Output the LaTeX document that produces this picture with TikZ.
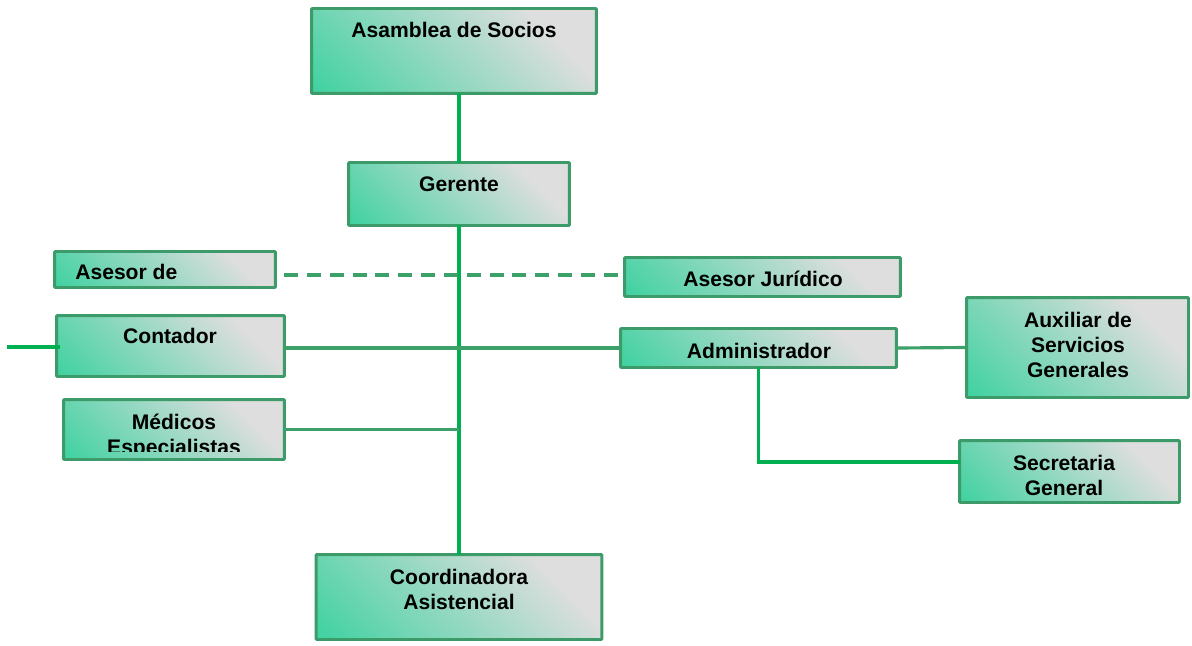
\documentclass[tikz,border=0pt]{standalone}
\usepackage{fontspec}
\setmainfont{Liberation Sans}
\definecolor{boxgreen}{RGB}{38,208,150}
\definecolor{boxgray}{RGB}{222,222,222}
\definecolor{boxedge}{RGB}{60,155,105}
\definecolor{linegreen}{RGB}{0,176,80}
\definecolor{linedark}{RGB}{60,160,105}
\pgfdeclarehorizontalshading{boxshade}{100bp}{color(0bp)=(boxgreen); color(6bp)=(boxgreen); color(72bp)=(boxgray); color(100bp)=(boxgray)}
\begin{document}
\begin{tikzpicture}[x=0.02cm,y=-0.02cm,
  orgbox/.style={draw=boxedge,line width=1.7pt,rounded corners=0.6pt,shading=boxshade,shading angle=45,inner sep=0pt,outer sep=0pt},
  lbl/.style={font=\fontsize{12}{14.2}\selectfont\bfseries,align=center,inner sep=0pt},
  link/.style={draw=linedark,line width=1.8pt},
  trunk/.style={draw=linegreen,line width=1.8pt}]
\useasboundingbox (0,0) rectangle (1192,645);

% Boxes
\node[orgbox,minimum width=5.70cm,minimum height=1.70cm] (asamblea) at (454,51) {};
\node[orgbox,minimum width=4.42cm,minimum height=1.26cm] (gerente) at (459,194) {};
\node[orgbox,minimum width=4.42cm,minimum height=0.72cm] (asesorde) at (165,269.5) {};
\node[orgbox,minimum width=5.52cm,minimum height=0.78cm] (juridico) at (762.5,277) {};
\node[orgbox,minimum width=4.56cm,minimum height=1.22cm] (contador) at (170.5,346) {};
\node[orgbox,minimum width=5.52cm,minimum height=0.78cm] (admin) at (758.5,348) {};
\node[orgbox,minimum width=4.44cm,minimum height=2.00cm] (auxiliar) at (1077.5,347.5) {};
\node[orgbox,minimum width=4.42cm,minimum height=1.20cm,
  path picture={\clip ([yshift=4.7pt]path picture bounding box.south west) rectangle (path picture bounding box.north east);
    \node[lbl,yshift=-4pt] (medtext) at (path picture bounding box.center) {M\'edicos\\Especialistas};}] (medicos) at (174,429.5) {};
\node[orgbox,minimum width=4.40cm,minimum height=1.24cm] (secretaria) at (1069.5,471.5) {};
\node[orgbox,minimum width=5.72cm,minimum height=1.70cm] (coord) at (459,597) {};

% Labels
\node[lbl] (asamblealbl) at (454,30) {Asamblea de Socios};
\node[lbl] (gerentelbl) at (459,184) {Gerente};
\node[lbl,anchor=west] (asesordelbl) at (75,272) {Asesor de};
\node[lbl] (juridicolbl) at (763,279) {Asesor Jur\'idico};
\node[lbl] (contadorlbl) at (170,336) {Contador};
\node[lbl] (adminlbl) at (759,351) {Administrador};
\node[lbl] (auxiliarlbl) at (1078,345) {Auxiliar de\\Servicios\\Generales};
\node[lbl] (secretarialbl) at (1064,475.5) {Secretaria\\General};
\node[lbl] (coordlbl) at (459,589.5) {Coordinadora\\Asistencial};

% Connections
\coordinate (dashstart) at (284,275);
\coordinate (stub) at (7,347);
\draw[trunk] (gerente.north) -- (gerente.north |- asamblea.south);
\draw[trunk] (gerente.south) -- (coord.north);
\draw[link,dash pattern=on 8pt off 5pt] (dashstart) -- (dashstart -| juridico.west);
\draw[link] (admin.west) -- (admin.west -| contador.east);
\draw[trunk] (stub) -- ([xshift=2pt]stub -| contador.west);
\draw[link] (medicos.east) -- (medicos.east -| gerente.south);
\draw[link] (admin.east) -- (auxiliar.west);
\draw[trunk] (admin.south) |- ([yshift=5.4pt]secretaria.west);
\end{tikzpicture}
\end{document}
